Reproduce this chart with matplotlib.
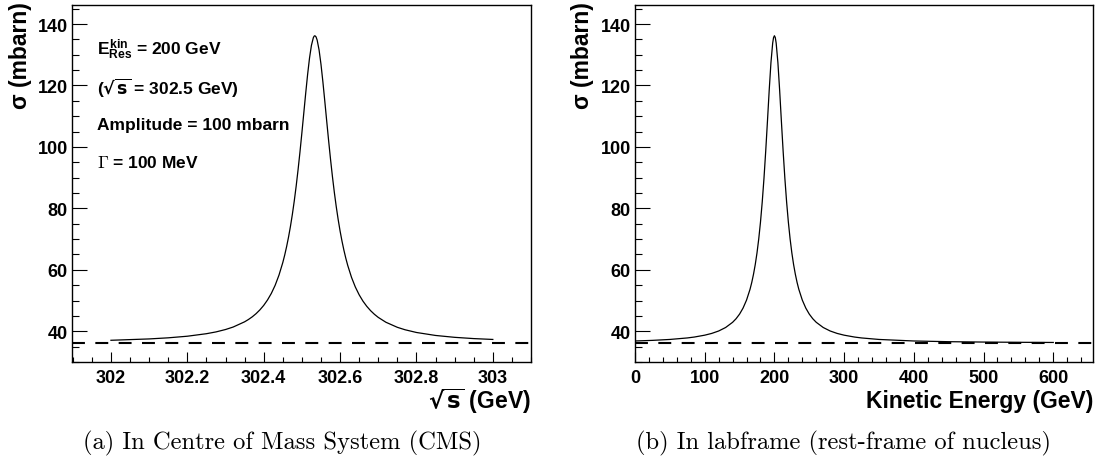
import matplotlib
matplotlib.use("Agg")
import matplotlib.pyplot as plt
from matplotlib.ticker import MultipleLocator, FormatStrFormatter

# values
cms_sqrt_s = [302.00, 302.10, 302.15, 302.20, 302.25, 302.275, 302.30, 302.32, 302.35, 302.36,
              302.37, 302.38, 302.39, 302.40, 302.41, 302.42, 302.43, 302.44, 302.45, 302.455,
              302.46, 302.465, 302.47, 302.475, 302.48, 302.485, 302.49, 302.495, 302.50, 302.505,
              302.51, 302.515, 302.52, 302.525, 302.53, 302.532, 302.534, 302.537, 302.54, 302.545,
              302.55, 302.555, 302.56, 302.565, 302.57, 302.575, 302.58, 302.585, 302.59, 302.595,
              302.60, 302.605, 302.61, 302.615, 302.62, 302.63, 302.64, 302.65, 302.66, 302.67,
              302.68, 302.69, 302.70, 302.72, 302.75, 302.77, 302.80, 302.85, 302.90, 302.95,
              303.00]
cms_sigma = [37.07, 37.51, 37.87, 38.39, 39.21, 39.79, 40.57, 41.38, 43.08, 43.83,
             44.70, 45.73, 46.96, 48.42, 50.19, 52.33, 54.97, 58.27, 62.36, 64.80,
             67.55, 70.63, 74.10, 78.00, 82.37, 87.21, 92.57, 98.37, 104.59, 111.03,
             117.47, 123.58, 128.93, 133.06, 135.56, 136.04, 136.20, 135.84, 134.78, 131.58,
             126.91, 121.20, 114.91, 108.43, 102.06, 96.00, 90.36, 85.20, 80.56, 76.39,
             72.66, 69.36, 66.41, 63.79, 61.47, 57.54, 54.40, 51.87, 49.80, 48.11,
             46.70, 45.52, 44.52, 42.94, 41.29, 40.50, 39.61, 38.64, 38.03, 37.62,
             37.34]

lab_ekin = [0, 25, 50, 75, 85, 100, 110, 120, 130, 140,
            145, 150, 155, 160, 165, 167.5, 170, 172.5, 175, 177.5,
            180, 182.5, 185, 187.5, 190, 192.5, 195, 197.5, 198.75, 200,
            201.25, 202.5, 205, 207.5, 210, 212.5, 215, 217.5, 220, 222.5,
            225, 227.5, 230, 232.5, 235, 240, 245, 250, 255, 260,
            270, 280, 290, 300, 315, 325, 350, 400, 450, 500,
            550, 600]
lab_sigma = [36.84, 37.04, 37.34, 37.83, 38.12, 38.73, 39.30, 40.09, 41.23, 42.92,
             44.09, 45.59, 47.55, 50.15, 53.66, 55.90, 58.57, 61.72, 65.50, 70.06,
             75.52, 82.05, 89.73, 98.60, 108.35, 118.40, 127.40, 133.80, 135.60, 136.20,
             135.60, 133.80, 127.40, 118.40, 108.35, 98.60, 89.73, 82.05, 75.52, 70.06,
             65.50, 61.72, 58.57, 55.90, 53.66, 50.15, 47.55, 45.59, 44.09, 42.92,
             41.23, 40.09, 39.30, 38.73, 38.12, 37.83, 37.34, 36.84, 36.61, 36.49,
             36.41, 36.36]

background = 36.2

info_lines = [r"$E^{kin}_{Res}$ = 200 GeV",
              r"($\sqrt{\mathbf{s}}$ = 302.5 GeV)",
              "Amplitude = 100 mbarn",
              r"$\Gamma$ = 100 MeV"]
info_math = [None, 'dejavusans', None, 'cm']
captions = ["(a) In Centre of Mass System (CMS)",
            "(b) In labframe (rest-frame of nucleus)"]

plt.rcParams['font.family'] = ['Liberation Sans', 'DejaVu Sans']
plt.rcParams['font.weight'] = 'bold'
plt.rcParams['mathtext.fontset'] = 'custom'
plt.rcParams['mathtext.rm'] = 'Liberation Sans:bold'
plt.rcParams['mathtext.it'] = 'Liberation Sans:bold'
plt.rcParams['mathtext.bf'] = 'Liberation Sans:bold'
plt.rcParams['mathtext.sf'] = 'Liberation Sans:bold'

W, H = 1103, 464
fig = plt.figure(figsize=(W / 100, H / 100), dpi=100)


def px(x, y):
    return x / W, 1 - y / H


def make_axes(left, right):
    top, bottom = 6, 363
    ax = fig.add_axes([left / W, 1 - bottom / H, (right - left) / W, (bottom - top) / H])
    for s in ax.spines.values():
        s.set_linewidth(1.0)
        s.set_color('black')
    ax.set_ylim(30, 146.2)
    ax.yaxis.set_major_locator(MultipleLocator(20))
    ax.yaxis.set_minor_locator(MultipleLocator(5))
    ax.tick_params(axis='both', which='both', direction='in', top=False, right=False,
                   labelsize=13, width=0.8)
    ax.tick_params(axis='y', which='major', length=10.8, pad=3)
    ax.tick_params(axis='y', which='minor', length=5)
    ax.tick_params(axis='x', which='major', length=7.2, pad=5)
    ax.tick_params(axis='x', which='minor', length=3.6)
    ax.axhline(background, color='black', lw=1.5, dashes=(6.2, 5.0))
    return ax


# (a) CMS
ax1 = make_axes(72, 531)
ax1.plot(cms_sqrt_s, cms_sigma, color='black', lw=0.9)
ax1.set_xlim(301.898, 303.1)
ax1.xaxis.set_major_locator(MultipleLocator(0.2))
ax1.xaxis.set_minor_locator(MultipleLocator(0.05))
ax1.xaxis.set_major_formatter(FormatStrFormatter('%g'))

# (b) lab frame
ax2 = make_axes(635, 1093)
ax2.plot(lab_ekin, lab_sigma, color='black', lw=0.9)
ax2.set_xlim(0, 657)
ax2.xaxis.set_major_locator(MultipleLocator(100))
ax2.xaxis.set_minor_locator(MultipleLocator(20))

# axis titles
for xc in (21, 583):
    fig.text(*px(xc, 2), "σ (mbarn)", rotation=90, ha='center', va='top', fontsize=16.5)
fig.text(*px(531, 409), r"$\sqrt{\mathbf{s}}$ (GeV)", ha='right', va='baseline', fontsize=16.5,
         math_fontfamily='dejavusans')
fig.text(*px(1093, 408), "Kinetic Energy (GeV)", ha='right', va='baseline', fontsize=16.5)

# info text
baselines = [55, 95, 130, 168]
for txt, mf, yb in zip(info_lines, info_math, baselines):
    kw = {'math_fontfamily': mf} if mf else {}
    fig.text(*px(97, yb), txt, ha='left', va='baseline', fontsize=12.5, **kw)

# captions
for txt, xc in zip(captions, (282, 843)):
    fig.text(*px(xc, 443), txt, ha='center', va='center', fontsize=17.7,
             family='cmr10', fontweight='normal')

fig.savefig("out.png", dpi=100)
